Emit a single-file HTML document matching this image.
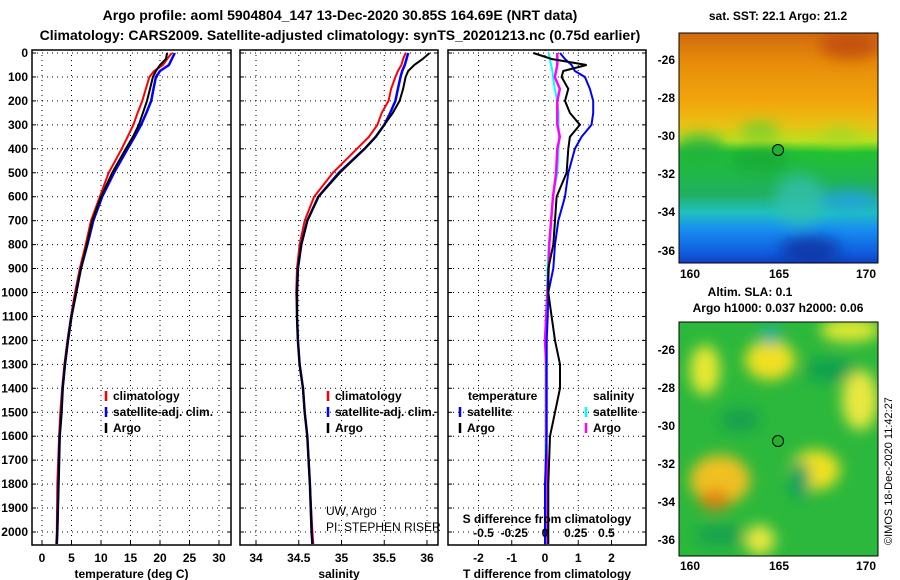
<!DOCTYPE html>
<html><head><meta charset="utf-8"><style>
body{margin:0;background:#fff;}
svg{display:block;font-family:"Liberation Sans",Arial,sans-serif;font-weight:bold;}
</style></head><body>
<svg id="c" width="900" height="580" viewBox="0 0 900 580">
<defs>
<linearGradient id="sstg" x1="0" y1="0" x2="0" y2="1">
<stop offset="0" stop-color="#d06a10"/><stop offset="0.12" stop-color="#e68a0a"/><stop offset="0.3" stop-color="#f2a60c"/>
<stop offset="0.4" stop-color="#e8c214"/><stop offset="0.47" stop-color="#b8e020"/><stop offset="0.52" stop-color="#22c032"/>
<stop offset="0.7" stop-color="#20b060"/><stop offset="0.78" stop-color="#20c0c0"/><stop offset="0.85" stop-color="#1890f0"/>
<stop offset="0.95" stop-color="#1060e0"/><stop offset="1" stop-color="#1040c0"/></linearGradient>
<filter id="blur"><feGaussianBlur stdDeviation="7"/></filter>
<clipPath id="clipA"><rect x="679" y="33" width="199" height="230"/></clipPath>
<clipPath id="clipB"><rect x="679" y="322" width="199" height="234"/></clipPath>
</defs>
<text x="340" y="20" font-size="14" text-anchor="middle">Argo profile: aoml 5904804_147 13-Dec-2020 30.85S 164.69E (NRT data)</text>
<text x="340" y="40" font-size="14" text-anchor="middle">Climatology: CARS2009. Satellite-adjusted climatology: synTS_20201213.nc (0.75d earlier)</text>
<g id="plots"></g>
<g>
<text x="778" y="20" font-size="12" text-anchor="middle">sat. SST: 22.1 Argo: 21.2</text>
<g clip-path="url(#clipA)">
<rect x="679" y="33" width="199" height="230" fill="url(#sstg)"/>
<g filter="url(#blur)" opacity="0.8">
<ellipse cx="700" cy="150" rx="25" ry="15" fill="#22b040"/>
<ellipse cx="800" cy="200" rx="25" ry="25" fill="#30c0b0"/>
<ellipse cx="760" cy="160" rx="30" ry="12" fill="#18a838"/>
<ellipse cx="850" cy="45" rx="30" ry="14" fill="#c04808"/>
<ellipse cx="810" cy="250" rx="30" ry="14" fill="#1030a0"/>
<ellipse cx="850" cy="200" rx="30" ry="10" fill="#20a0f0"/>
<ellipse cx="760" cy="130" rx="20" ry="8" fill="#60d030"/>
<ellipse cx="840" cy="135" rx="20" ry="8" fill="#a0d828"/>
</g></g>
<rect x="679" y="33" width="199" height="230" fill="none" stroke="#000" stroke-width="1"/>
<circle cx="778" cy="150" r="5.5" fill="#22b030" stroke="#000"/>
<text x="690" y="278" font-size="12" text-anchor="middle">160</text>
<text x="779" y="278" font-size="12" text-anchor="middle">165</text>
<text x="866" y="278" font-size="12" text-anchor="middle">170</text>
<g font-size="12" text-anchor="end">
<text x="675" y="64">-26</text><text x="675" y="102">-28</text><text x="675" y="140">-30</text><text x="675" y="178">-32</text><text x="675" y="216">-34</text><text x="675" y="255">-36</text></g>
</g>
<g>
<text x="750" y="296" font-size="12" text-anchor="middle">Altim. SLA: 0.1</text>
<text x="778" y="312" font-size="12" text-anchor="middle">Argo h1000: 0.037 h2000: 0.06</text>
<g clip-path="url(#clipB)">
<rect x="679" y="322" width="199" height="234" fill="#2cb83c"/>
<g filter="url(#blur)">
<ellipse cx="705" cy="370" rx="15" ry="25" fill="#e8e830"/>
<ellipse cx="770" cy="360" rx="25" ry="20" fill="#f0e020"/>
<ellipse cx="850" cy="330" rx="30" ry="12" fill="#e0e830"/>
<ellipse cx="860" cy="400" rx="18" ry="30" fill="#e8e840"/>
<ellipse cx="720" cy="480" rx="30" ry="25" fill="#f0c020"/>
<ellipse cx="715" cy="500" rx="15" ry="10" fill="#e08010"/>
<ellipse cx="815" cy="470" rx="25" ry="20" fill="#f0e020"/>
<ellipse cx="760" cy="540" rx="15" ry="15" fill="#e8e840"/>
<ellipse cx="770" cy="335" rx="10" ry="10" fill="#20b0a0"/>
<ellipse cx="830" cy="370" rx="25" ry="12" fill="#10a050"/>
<ellipse cx="800" cy="480" rx="10" ry="20" fill="#10a060"/>
<ellipse cx="740" cy="420" rx="20" ry="12" fill="#18a050"/>
<ellipse cx="720" cy="535" rx="25" ry="10" fill="#18a050"/>
</g></g>
<rect x="679" y="322" width="199" height="234" fill="none" stroke="#000"/>
<circle cx="778" cy="441" r="5.5" fill="#22b030" stroke="#000"/>
<text x="690" y="570" font-size="12" text-anchor="middle">160</text>
<text x="779" y="570" font-size="12" text-anchor="middle">165</text>
<text x="866" y="570" font-size="12" text-anchor="middle">170</text>
<g font-size="12" text-anchor="end">
<text x="675" y="354">-26</text><text x="675" y="392">-28</text><text x="675" y="430">-30</text><text x="675" y="468">-32</text><text x="675" y="506">-34</text><text x="675" y="544">-36</text></g>
<text transform="translate(892,545) rotate(-90)" font-size="11" font-weight="normal">©IMOS 18-Dec-2020 11:42:27</text>
</g>
</svg>
<script>
const depths=[0,25,50,75,100,150,200,250,300,350,400,500,600,700,800,900,1000,1100,1200,1300,1400,1500,1600,1800,2000,2050];
const tArgo=[21.2,21,20,19.3,18.8,18.3,17.8,17.1,16.4,15.4,14.2,11.9,10,8.5,7.6,6.6,5.8,5.0,4.4,3.9,3.5,3.3,3.0,2.8,2.6,2.5];
const tClim=[22,21.2,20.5,19,18.2,17.6,17,16.2,15.5,14.5,13.5,11.3,9.8,8.3,7.4,6.4,5.6,4.9,4.3,3.8,3.4,3.1,2.9,2.6,2.5,2.4];
const tSat=[22.5,22,21.5,20,19.3,18.9,18.5,17.7,16.8,15.7,14.5,12.2,10.2,8.7,7.7,6.6,5.8,5.0,4.4,3.9,3.5,3.3,3.0,2.8,2.6,2.5];
const sArgo=[36.03,35.95,35.85,35.78,35.75,35.72,35.68,35.6,35.5,35.4,35.27,34.98,34.73,34.6,34.53,34.49,34.48,34.48,34.49,34.51,34.55,34.57,34.6,34.63,34.65,34.66];
const sClim=[35.75,35.72,35.7,35.66,35.63,35.58,35.55,35.47,35.42,35.32,35.18,34.9,34.68,34.57,34.51,34.48,34.47,34.48,34.49,34.51,34.55,34.57,34.6,34.63,34.66,34.67];
const sSat=[35.78,35.76,35.74,35.71,35.69,35.66,35.63,35.57,35.5,35.4,35.27,34.97,34.73,34.6,34.53,34.49,34.48,34.48,34.49,34.51,34.55,34.57,34.6,34.63,34.65,34.66];
const dtArgo=[-0.35,0.2,1.25,0.55,0.5,0.7,0.6,0.75,1.05,0.75,0.7,0.65,0.35,0.3,0.25,0.1,0.1,0.2,0.3,0.45,0.45,0.3,0.15,0.1,0.1,0.1];
const dtSat=[0.45,0.6,0.8,0.9,1.2,1.35,1.45,1.45,1.4,1.1,0.9,0.7,0.6,0.4,0.3,0.25,0.1,0.08,0.05,0.05,0.05,0.05,0.05,0.0,0.0,0.0];
const dsArgo=[0.1,0.1,0.1,0.09,0.08,0.12,0.1,0.1,0.1,0.12,0.1,0.09,0.065,0.05,0.035,0.03,0.02,0.01,0.0,0.01,0.01,0.01,0.01,0.02,0.02,0.02];
const dsSat=[0.03,0.04,0.05,0.06,0.065,0.08,0.1,0.11,0.11,0.115,0.11,0.1,0.065,0.05,0.03,0.02,0.015,0.01,0.005,0.005,0.005,0.005,0.005,0.005,0.005,0.005];
const depthTicks=[0,100,200,300,400,500,600,700,800,900,1000,1100,1200,1300,1400,1500,1600,1700,1800,1900,2000];
const tTicks=[0,5,10,15,20,25,30];
const sTicks=[34,34.5,35,35.5,36];
const dtTicks=[-2,-1,0,1,2];
const dsTicks=[-0.5,-0.25,0,0.25,0.5];
const dsTickLabels=["-0.5","-0.25","0","0.25","0.5"];

const NS="http://www.w3.org/2000/svg";
const G=document.getElementById('plots');
function el(t,a,p){const e=document.createElementNS(NS,t);for(const k in a)e.setAttribute(k,a[k]);(p||G).appendChild(e);return e;}
const Y=d=>53+d*0.2395;
const topY=50,botY=545;
const panels=[
 {x0:32,x1:231,sx:v=>42+v*5.9,ticks:tTicks,title:"temperature (deg C)",name:"temperature-panel"},
 {x0:240,x1:438,sx:v=>256+(v-34)*85.5,ticks:sTicks,title:"salinity",name:"salinity-panel"},
 {x0:448,x1:646,sx:v=>545+v*33.25,ticks:dtTicks,title:"T difference from climatology",name:"difference-panel"}];
panels.forEach((p,i)=>{
 const g=el('g',{});
 
 
 el('rect',{x:p.x0,y:topY,width:p.x1-p.x0,height:botY-topY,fill:'#fff',stroke:'#000','stroke-width':1.5},g);
 depthTicks.forEach(d=>{el('line',{x1:p.x0,x2:p.x1,y1:Y(d),y2:Y(d),stroke:'#000','stroke-dasharray':'1,4','stroke-width':1},g);
  el('line',{x1:p.x0,x2:p.x0+4,y1:Y(d),y2:Y(d),stroke:'#000'},g);el('line',{x1:p.x1-4,x2:p.x1,y1:Y(d),y2:Y(d),stroke:'#000'},g);});
 p.ticks.forEach(v=>{const x=p.sx(v);el('line',{x1:x,x2:x,y1:topY,y2:botY,stroke:'#000','stroke-dasharray':'1,4'},g);
  el('line',{x1:x,x2:x,y1:botY-4,y2:botY,stroke:'#000'},g);
  const t=el('text',{x:x,y:562,'font-size':12,'text-anchor':'middle'},g);t.textContent=String(v);});
 const tt=el('text',{x:(p.x0+p.x1)/2,y:578,'font-size':12,'text-anchor':'middle'},g);tt.textContent=p.title;
 
 
});
depthTicks.forEach(d=>{const t=el('text',{x:28,y:Y(d)+4,'font-size':12,'text-anchor':'end'});t.textContent=d;
 
 });
function line(vals,sx,col,w,name){
 const pts=vals.map((v,i)=>sx(v).toFixed(1)+','+Y(depths[i]).toFixed(1)).join(' ');
 const l=el('polyline',{points:pts,fill:'none',stroke:col,'stroke-width':w});
 
 
}
const P=panels;
line(tClim,P[0].sx,'#f00',2,'temperature-climatology-line');
line(tSat,P[0].sx,'#00f',2.5,'temperature-satellite-line');
line(tArgo,P[0].sx,'#000',2,'temperature-argo-line');
line(sClim,P[1].sx,'#f00',2,'salinity-climatology-line');
line(sSat,P[1].sx,'#00f',2.5,'salinity-satellite-line');
line(sArgo,P[1].sx,'#000',2,'salinity-argo-line');
const sdx=v=>545+v*123;
line(dsSat,sdx,'#0ff',2,'s-diff-satellite-line');
line(dsArgo,sdx,'#f0f',2.5,'s-diff-argo-line');
line(dtSat,P[2].sx,'#00f',2,'t-diff-satellite-line');
line(dtArgo,P[2].sx,'#000',2,'t-diff-argo-line');
dsTicks.forEach((v,i)=>{const t=el('text',{x:sdx(v),y:537,'font-size':12,'text-anchor':'middle'});t.textContent=dsTickLabels[i];});
const st=el('text',{x:547,y:523,'font-size':12,'text-anchor':'middle'});st.textContent="S difference from climatology";


function leg(x,y,col,txt,name){
 el('line',{x1:x,x2:x,y1:y-9,y2:y+1,stroke:col,'stroke-width':2.5});
 const t=el('text',{x:x+7,y:y,'font-size':12});t.textContent=txt;
 
 
}
leg(106,400,'#f00','climatology','legend-climatology');
leg(106,416,'#00f','satellite-adj. clim.','legend-satellite');
leg(106,432,'#000','Argo','legend-argo');
leg(328,400,'#f00','climatology','legend-climatology');
leg(328,416,'#00f','satellite-adj. clim.','legend-satellite');
leg(328,432,'#000','Argo','legend-argo');
const lt=el('text',{x:468,y:400,'font-size':12});lt.textContent="temperature";
leg(460,416,'#00f','satellite','legend-t-satellite');
leg(460,432,'#000','Argo','legend-t-argo');
const ls=el('text',{x:593,y:400,'font-size':12});ls.textContent="salinity";
leg(586,416,'#0ff','satellite','legend-s-satellite');
leg(586,432,'#f0f','Argo','legend-s-argo');
const u1=el('text',{x:326,y:515,'font-size':12,'font-weight':'normal'});u1.textContent="UW, Argo";
const u2=el('text',{x:326,y:531,'font-size':12,'font-weight':'normal'});u2.textContent="PI: STEPHEN RISER";


</script>
</body></html>
